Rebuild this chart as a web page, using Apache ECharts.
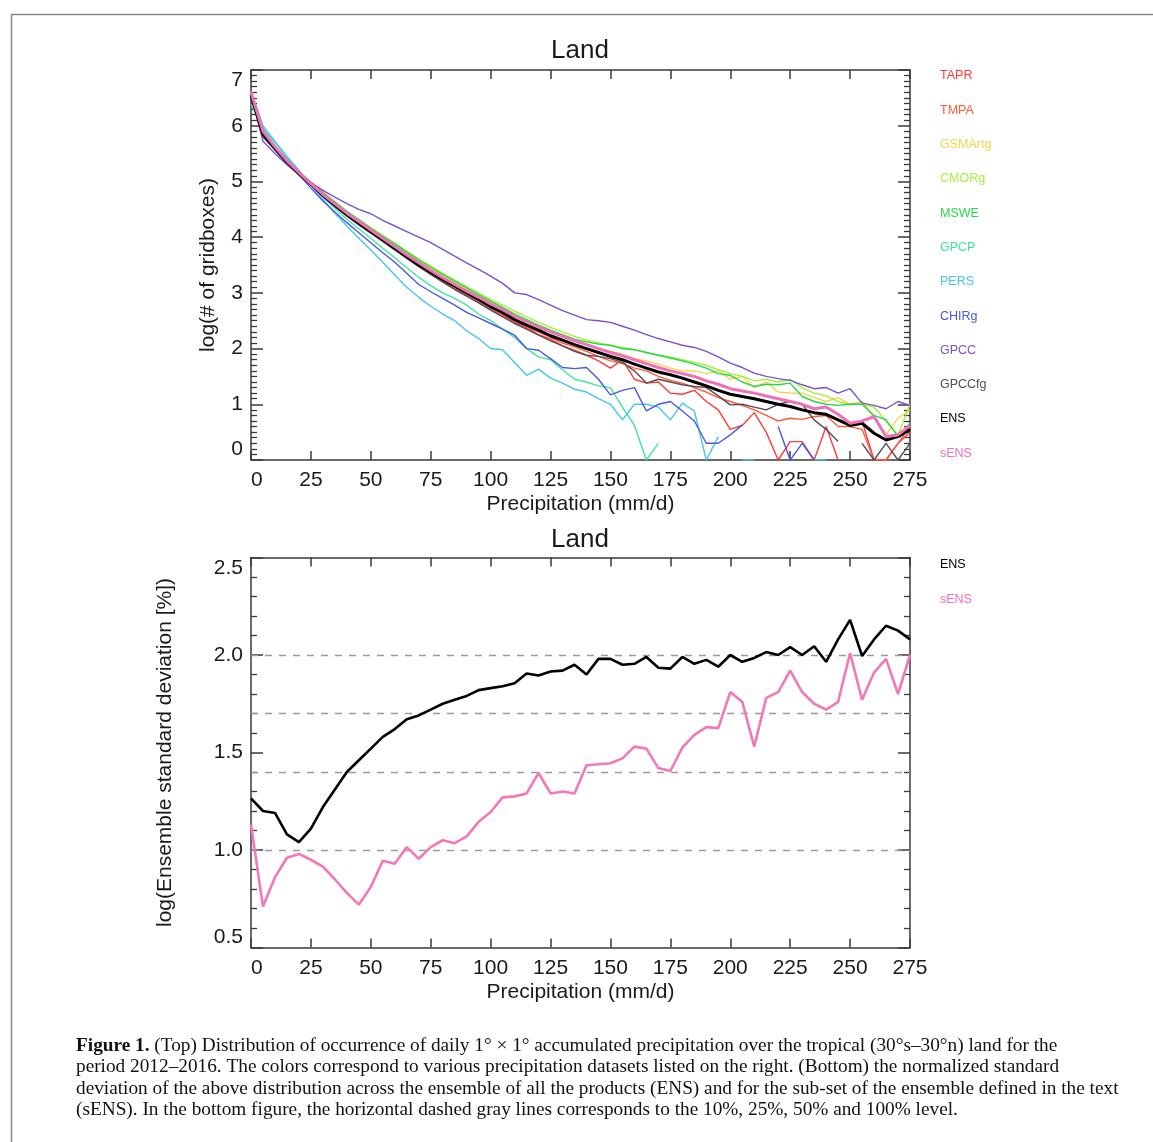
<!DOCTYPE html>
<html>
<head>
<meta charset="utf-8">
<script src="https://cdn.jsdelivr.net/npm/echarts@6/dist/echarts.min.js"></script>
<style>
html,body{margin:0;padding:0;background:#fff;}
#chart{width:1153px;height:1142px;}
</style>
</head>
<body>
<div id="chart"></div>
<script>
// ---------------- DATA ----------------
const precip = [0,5,10,15,20,25,30,35,40,45,50,55,60,65,70,75,80,85,90,95,100,105,110,115,120,125,130,135,140,145,150,155,160,165,170,175,180,185,190,195,200,205,210,215,220,225,230,235,240,245,250,255,260,265,270,275];
const xTicks = [0,25,50,75,100,125,150,175,200,225,250,275];
const topYTicks = [0,1,2,3,4,5,6,7];
const bottomYTicks = [0.5,1.0,1.5,2.0,2.5];
const refLevels = [2.0, 1.699, 1.398, 1.0]; // log10 of 100%, 50%, 25%, 10%

const TAPR   = [6.5,5.82,5.58,5.33,5.12,4.93,4.74,4.56,4.39,4.23,4.08,3.93,3.78,3.63,3.48,3.34,3.2,3.07,2.95,2.83,2.7,2.6,2.47,2.37,2.25,2.17,2.05,1.97,1.88,1.78,1.65,1.8,1.45,1.38,1.4,1.2,1.18,1.25,1.05,0.9,0.55,0.62,0.85,0.5,0,0.33,0.33,0,0.6,0,null,0.7,0,0,0.3,0.5];
const TMPA   = [6.52,5.83,5.59,5.34,5.14,4.95,4.76,4.58,4.41,4.26,4.11,3.97,3.81,3.66,3.51,3.38,3.25,3.12,3.0,2.87,2.74,2.62,2.5,2.38,2.3,2.2,2.1,2.03,1.95,1.86,1.78,1.73,1.65,1.6,1.5,1.43,1.38,1.3,1.22,1.12,1.05,0.98,0.9,0.8,0.7,0.75,0.73,0.78,0.8,0.6,0.6,0.55,0,0,0.3,0.6];
const GSMArtg= [6.55,5.85,5.6,5.36,5.16,4.97,4.79,4.62,4.45,4.3,4.15,4.0,3.85,3.7,3.56,3.43,3.3,3.18,3.06,2.94,2.82,2.72,2.61,2.5,2.4,2.31,2.23,2.15,2.08,2.0,1.95,1.9,1.82,1.78,1.72,1.65,1.6,1.6,1.55,1.6,1.45,1.5,1.3,1.4,1.22,1.2,1.2,1.12,1.05,1.12,1.0,1.05,0.75,0.45,0.75,0.9];
const CMORg  = [6.55,5.87,5.62,5.38,5.18,4.99,4.81,4.64,4.47,4.32,4.17,4.03,3.89,3.75,3.61,3.48,3.35,3.23,3.11,3.0,2.88,2.78,2.67,2.57,2.47,2.38,2.3,2.22,2.15,2.1,2.06,2.02,1.98,1.93,1.88,1.85,1.8,1.75,1.7,1.62,1.55,1.5,1.42,1.45,1.4,1.45,1.3,1.2,1.15,1.05,1.0,1.0,0.95,0.7,0.45,1.0];
const MSWE   = [6.5,5.86,5.61,5.37,5.17,4.98,4.8,4.63,4.46,4.31,4.16,4.02,3.88,3.73,3.59,3.46,3.33,3.21,3.09,2.97,2.85,2.74,2.62,2.52,2.42,2.33,2.25,2.17,2.12,2.08,2.06,2.0,1.98,1.93,1.88,1.83,1.78,1.72,1.65,1.55,1.52,1.4,1.32,1.36,1.35,1.38,1.14,1.05,1.0,0.98,1.0,1.0,0.8,0.72,0.42,0.66];
const GPCP   = [6.38,5.95,5.7,5.42,5.18,4.95,4.72,4.52,4.32,4.15,3.98,3.8,3.63,3.45,3.28,3.13,3.0,2.9,2.78,2.62,2.5,2.35,2.2,2.0,1.85,1.8,1.62,1.45,1.4,1.33,1.3,0.95,0.62,0,0.3,null,null,null,null,null,null,null,null,null,null,null,null,null,null,null,null,null,null,null,null,null];
const PERS   = [6.62,6.0,5.72,5.45,5.2,4.93,4.68,4.43,4.2,3.98,3.77,3.55,3.32,3.1,2.92,2.76,2.62,2.5,2.32,2.18,2.0,1.98,1.75,1.52,1.63,1.47,1.38,1.27,1.22,1.1,1.0,0.72,1.0,1.0,0.95,0.72,1.02,0.88,0,0.42,null,0,0,null,null,null,null,0,0,null,null,null,null,null,null,null];
const CHIRg  = [6.55,5.8,5.58,5.35,5.12,4.88,4.65,4.45,4.26,4.08,3.9,3.72,3.55,3.35,3.15,3.02,2.9,2.78,2.65,2.55,2.45,2.35,2.24,2.0,1.97,1.82,1.66,1.64,1.66,1.45,1.17,1.25,1.3,0.88,1.0,1.05,0.88,0.7,0.3,0.3,0.45,0.63,null,null,0.6,0,0.3,0,null,null,null,null,null,null,null,null];
const GPCC   = [6.55,5.72,5.5,5.3,5.12,4.98,4.84,4.72,4.6,4.5,4.42,4.3,4.2,4.1,4.0,3.9,3.78,3.66,3.54,3.42,3.3,3.17,3.0,2.97,2.88,2.78,2.68,2.6,2.52,2.5,2.47,2.4,2.33,2.25,2.18,2.12,2.06,2.02,1.95,1.85,1.74,1.66,1.56,1.5,1.46,1.43,1.35,1.28,1.3,1.2,1.28,1.02,0.98,0.92,1.05,0.98];
const GPCCfg = [6.5,5.8,5.56,5.32,5.12,4.93,4.74,4.56,4.38,4.22,4.07,3.92,3.77,3.62,3.47,3.33,3.19,3.06,2.94,2.82,2.69,2.57,2.45,2.35,2.24,2.14,2.05,1.95,1.88,1.86,1.82,1.75,1.6,1.38,1.45,1.4,1.35,1.32,1.3,1.15,0.99,1.0,0.95,0.9,1.0,1.05,1.0,0.72,0.55,0.33,null,0.3,0,0.3,0,0.3];
const ENS    = [6.55,5.85,5.6,5.35,5.15,4.95,4.75,4.57,4.4,4.25,4.1,3.96,3.8,3.65,3.5,3.37,3.24,3.12,3.0,2.88,2.75,2.65,2.52,2.42,2.33,2.23,2.15,2.07,2.0,1.93,1.86,1.8,1.72,1.65,1.58,1.53,1.47,1.4,1.33,1.25,1.18,1.14,1.1,1.05,1.0,0.96,0.9,0.85,0.82,0.72,0.62,0.66,0.48,0.36,0.42,0.55];
const sENS   = [6.6,5.9,5.62,5.37,5.16,4.96,4.77,4.6,4.43,4.28,4.13,3.98,3.83,3.68,3.54,3.4,3.27,3.15,3.03,2.92,2.8,2.7,2.58,2.48,2.39,2.3,2.22,2.14,2.07,2.0,1.93,1.87,1.8,1.73,1.66,1.6,1.55,1.5,1.42,1.36,1.28,1.24,1.2,1.15,1.1,1.05,1.0,0.92,0.95,0.82,0.66,0.7,0.78,0.42,0.45,0.62];

const stdENS  = [1.265,1.2,1.19,1.08,1.04,1.11,1.22,1.31,1.40,1.46,1.52,1.58,1.62,1.67,1.69,1.72,1.75,1.77,1.79,1.82,1.83,1.84,1.855,1.905,1.895,1.915,1.92,1.95,1.9,1.98,1.98,1.95,1.955,1.99,1.935,1.93,1.99,1.955,1.975,1.94,2.0,1.965,1.985,2.015,2.0,2.04,2.0,2.045,1.965,2.08,2.18,1.995,2.08,2.15,2.125,2.08];
const stdSENS = [1.13,0.71,0.86,0.96,0.98,0.95,0.915,0.85,0.78,0.72,0.81,0.945,0.93,1.015,0.955,1.015,1.05,1.035,1.07,1.145,1.195,1.27,1.275,1.29,1.395,1.29,1.30,1.29,1.435,1.44,1.445,1.47,1.53,1.52,1.42,1.405,1.525,1.59,1.63,1.625,1.81,1.76,1.53,1.78,1.81,1.92,1.81,1.75,1.72,1.76,2.01,1.77,1.91,1.98,1.80,2.0];

const topNames  = ['TAPR','TMPA','GSMArtg','CMORg','MSWE','GPCP','PERS','CHIRg','GPCC','GPCCfg','ENS','sENS'];
const topColors = ['#ff3a3a','#ff5a3c','#f2d447','#a6ee3e','#25d845','#3fe6a0','#45c6f2','#4a58e2','#7a52cc','#5c4b50','#000000','#f070b8'];
const topValues = [TAPR,TMPA,GSMArtg,CMORg,MSWE,GPCP,PERS,CHIRg,GPCC,GPCCfg,ENS,sENS];

// ---------------- CHART ----------------
const chart = echarts.init(document.getElementById('chart'), null, {renderer:'canvas'});
const FONT = 'Liberation Sans, Arial, sans-serif';
const axisCol = '#3a3a3a';

function pairs(arr){ return precip.map((x,i)=> [x, arr[i]==null ? '-' : arr[i]]); }

function xAx(grid, pos, labels){
  return {
    type:'value', gridIndex:grid, position:pos, min:0, max:275, interval:25,
    axisLine:{show:true, onZero:false, lineStyle:{color:axisCol, width:1.5}},
    axisTick:{show:true, inside:true, length:9, lineStyle:{color:axisCol, width:1.5}},
    splitLine:{show:false},
    axisLabel:{show:labels, fontSize:21, color:'#1a1a1a', fontFamily:FONT, margin:10, alignMinLabel:'left'},
    name: labels ? 'Precipitation (mm/d)' : '',
    nameLocation:'middle', nameGap:34,
    nameTextStyle:{fontSize:21, color:'#1a1a1a', fontFamily:FONT}
  };
}
function yAx(grid, pos, labels, min, max, interval, split, name, gap, fmt){
  return {
    type:'value', gridIndex:grid, position:pos, min:min, max:max, interval:interval,
    axisLine:{show:true, onZero:false, lineStyle:{color:axisCol, width:1.5}},
    axisTick:{show:true, inside:true, length:12, lineStyle:{color:axisCol, width:1.5}},
    minorTick:{show:true, splitNumber:split, length:6, lineStyle:{color:axisCol, width:1.3}},
    splitLine:{show:false},
    axisLabel:{show:labels, fontSize:21, color:'#1a1a1a', fontFamily:FONT, margin:8,
      verticalAlignMinLabel:'bottom', verticalAlignMaxLabel:'top', formatter:fmt},
    name: labels ? name : '',
    nameLocation:'middle', nameGap:gap, nameRotate:90,
    nameTextStyle:{fontSize:21, color:'#1a1a1a', fontFamily:FONT}
  };
}

const series = [];
topNames.forEach((n,i)=>{
  const thick = (n==='ENS'||n==='sENS');
  series.push({
    type:'line', name:n, xAxisIndex:0, yAxisIndex:0, data:pairs(topValues[i]),
    showSymbol:false, symbol:'none', color:topColors[i],
    lineStyle:{width: thick?3:1.4, color:topColors[i]}, z: thick? (n==='sENS'?6:5) : 3, clip:true
  });
});
series.push({
  type:'line', name:'ENS', xAxisIndex:2, yAxisIndex:2, data:pairs(stdENS),
  showSymbol:false, symbol:'none', color:'#000', lineStyle:{width:2.6, color:'#000'}, z:5,
  markLine:{silent:true, symbol:'none', label:{show:false},
    lineStyle:{type:[7,7], color:'#9a9a9a', width:1.3},
    data: refLevels.map(v=>({yAxis:v}))}
});
series.push({
  type:'line', name:'sENS', xAxisIndex:2, yAxisIndex:2, data:pairs(stdSENS),
  showSymbol:false, symbol:'none', color:'#f278b8', lineStyle:{width:2.6, color:'#f278b8'}, z:5
});

const option = {
  animation:false,
  backgroundColor:'#ffffff',
  title:[
    {text:'Land', left:546, top:33, textStyle:{fontSize:26, fontWeight:'normal', color:'#1a1a1a', fontFamily:FONT}},
    {text:'Land', left:546, top:522, textStyle:{fontSize:26, fontWeight:'normal', color:'#1a1a1a', fontFamily:FONT}}
  ],
  grid:[
    {left:251, top:70, width:659, height:390, containLabel:false},
    {left:251, top:557.5, width:659, height:390, containLabel:false}
  ],
  xAxis:[xAx(0,'bottom',true), xAx(0,'top',false), xAx(1,'bottom',true), xAx(1,'top',false)],
  yAxis:[
    yAx(0,'left',true,0,7,1,10,'log(# of gridboxes)',32, v=>String(v)),
    yAx(0,'right',false,0,7,1,10,'',0, v=>String(v)),
    yAx(1,'left',true,0.5,2.5,0.5,5,'log(Ensemble standard deviation [%])',75, v=>v.toFixed(1)),
    yAx(1,'right',false,0.5,2.5,0.5,5,'',0, v=>v.toFixed(1))
  ],
  legend:[
    {orient:'vertical', left:930, top:63, icon:'none', itemWidth:0, itemHeight:16, itemGap:18.3,
     selectedMode:false,
     textStyle:{fontSize:12.5, fontFamily:FONT, lineHeight:16},
     data: topNames.map((n,i)=>({name:n, textStyle:{color:topColors[i]}}))},
    {orient:'vertical', left:930, top:552, icon:'none', itemWidth:0, itemHeight:16, itemGap:18.3,
     selectedMode:false,
     textStyle:{fontSize:12.5, fontFamily:FONT, lineHeight:16},
     data:[{name:'ENS', textStyle:{color:'#000'}},{name:'sENS', textStyle:{color:'#f070b8'}}]}
  ],
  graphic:[
    {type:'rect', left:9, top:12, z:-10, shape:{x:0,y:0,width:1300,height:1300},
     style:{fill:'none', stroke:'#8a8a8a', lineWidth:1.5}},
    {type:'text', left:76, top:1035,
     style:{
       text:'{b|Figure 1.} (Top) Distribution of occurrence of daily 1° × 1° accumulated precipitation over the tropical (30°s–30°n) land for the\n' +
            'period 2012–2016. The colors correspond to various precipitation datasets listed on the right. (Bottom) the normalized standard\n' +
            'deviation of the above distribution across the ensemble of all the products (ENS) and for the sub-set of the ensemble defined in the text\n' +
            '(sENS). In the bottom figure, the horizontal dashed gray lines corresponds to the 10%, 25%, 50% and 100% level.',
       font:'19.3px "Liberation Serif", serif', fill:'#111111', lineHeight:21.5,
       rich:{b:{fontWeight:'bold', fontSize:19.3, fontFamily:'Liberation Serif', lineHeight:21.5}}
     }}
  ],
  series: series
};
chart.setOption(option);
</script>
</body>
</html>
